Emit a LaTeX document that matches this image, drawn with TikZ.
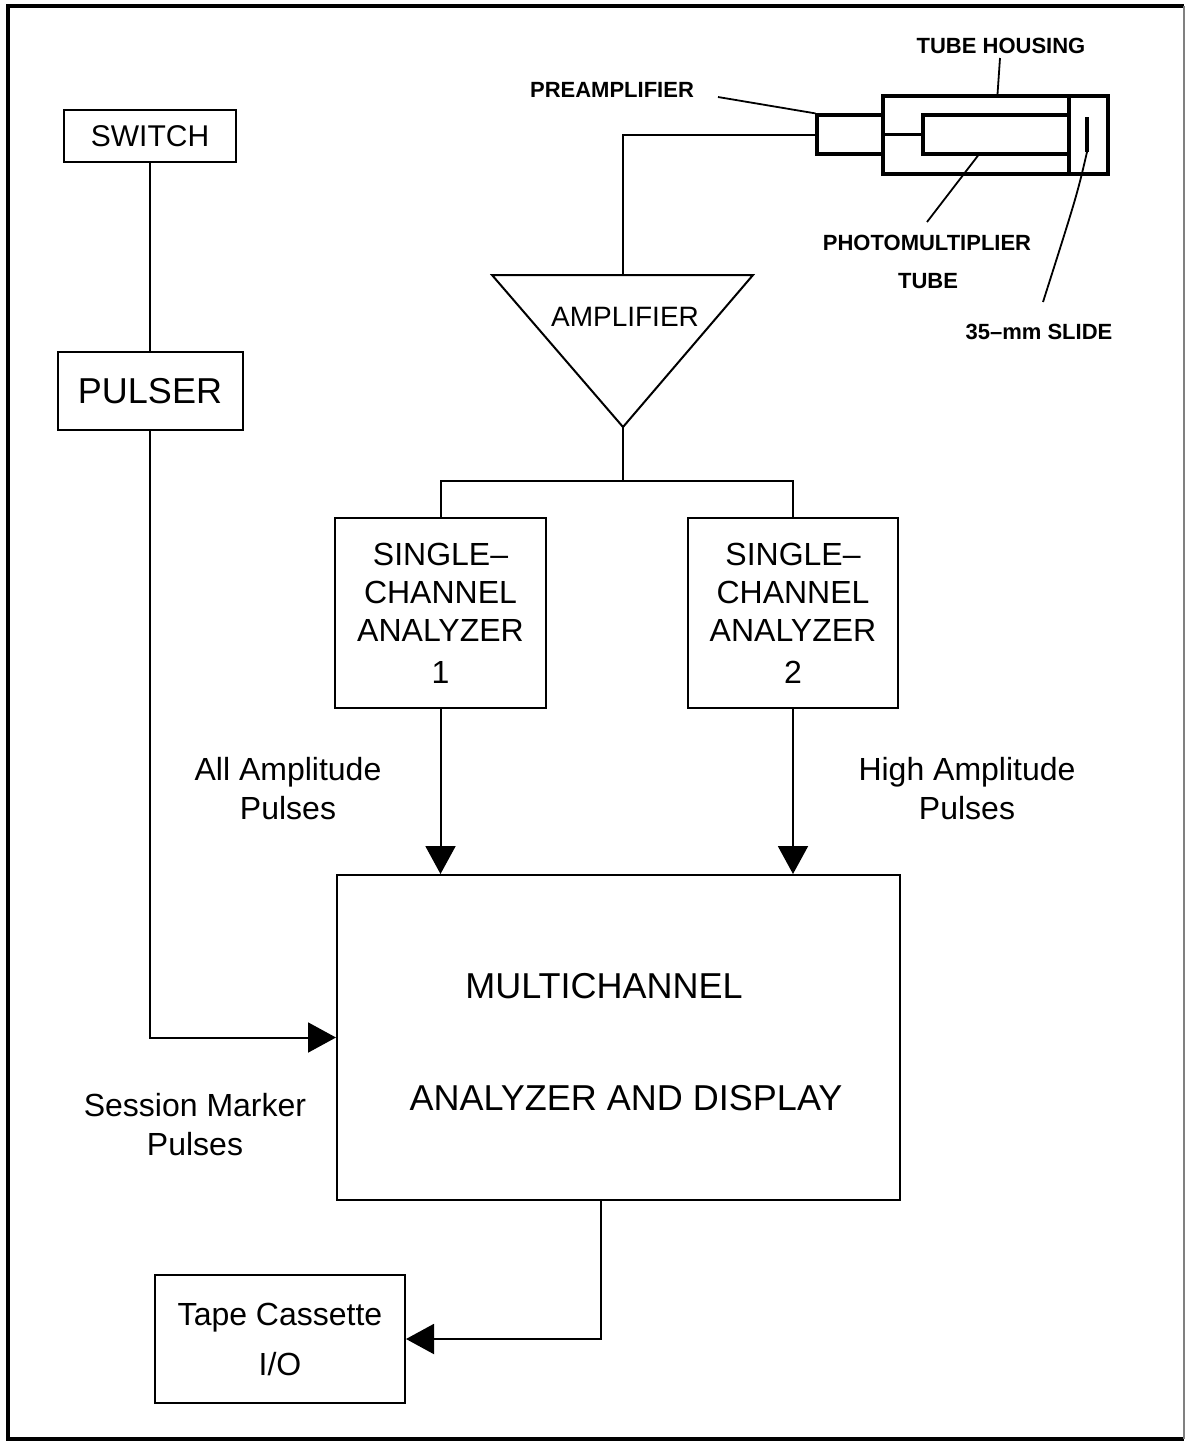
\documentclass[tikz,border=0pt]{standalone}
\usepackage{fontspec}
\setmainfont{Liberation Sans}
\usetikzlibrary{arrows.meta}
\tikzset{
  blok/.style={draw, line width=1pt, inner sep=0pt, align=center},
  wire/.style={line width=1pt},
  feed/.style={wire, -{Triangle[width=15pt,length=14pt]}},
  part/.style={draw, line width=1.6pt, inner sep=0pt},
  lead/.style={line width=0.9pt},
  tag/.style={font=\bfseries\fontsize{11}{13}\selectfont, inner sep=0pt},
  txt/.style={font=\fontsize{16}{19.5}\selectfont, align=center, inner sep=0pt}
}
\begin{document}
\begin{tikzpicture}[x=0.5pt, y=-0.5pt]
  \useasboundingbox (0,0) rectangle (1186,1441);
  \draw[line width=1.6pt] (1184,6) -| (8,1439) -- (1184,1439);
  \draw[gray, line width=0.6pt] (1184,6) -- (1184,1439);

  % detector head
  \node[part, minimum width=112.5pt, minimum height=39pt] (housing) at (995.5,135) {};
  \node[part, minimum width=33pt, minimum height=19.5pt] (pre) at (850,134.5) {};
  \node[part, minimum width=73pt, minimum height=19.5pt] (pmt) at (996,134.5) {};
  \draw[line width=1.6pt] (1069,96) -- (1069,174);
  \draw[line width=1.6pt] (pre.east) -- (pmt.west);
  \draw[line width=1.6pt] (1087,117) -- (1087,152) coordinate (slide);

  \node[tag] (lhousing) at (1001,46) {TUBE HOUSING};
  \node[tag] (lpre) at (612,90) {PREAMPLIFIER};
  \node[tag] (lpmt) at (927,243) {PHOTOMULTIPLIER};
  \node[tag] (lpmt2) at (928,281) {TUBE};
  \node[tag] (lslide) at (1039,332) {35--mm SLIDE};
  \draw[lead] (1000,58) -- ([xshift=1pt]housing.north);
  \draw[lead] (718,97) -- (pre.north west);
  \draw[lead] ([xshift=-9pt]pmt.south) -- (927,222);
  \draw[lead] (slide) .. controls (1077,195) .. (1043,302);

  % pulser chain
  \node[blok, minimum width=86pt, minimum height=26pt, font=\fontsize{15}{18}\selectfont] (switch) at (150,136) {SWITCH};
  \node[blok, minimum width=92.5pt, minimum height=39pt, font=\fontsize{18}{22}\selectfont] (pulser) at (150,391) {PULSER};
  \draw[wire] (switch) -- (pulser);

  % amplifier
  \coordinate (amptop) at (623,275);
  \coordinate (ampout) at (623,427);
  \draw[wire] (492,275) -- (753,275) -- (ampout) -- cycle;
  \node[font=\fontsize{14}{17}\selectfont] (amp) at (625,317) {AMPLIFIER};
  \draw[wire] (amptop) |- (pre.west);

  % analyzers
  \node[blok, minimum width=105.5pt, minimum height=95pt, font=\fontsize{16}{19}\selectfont] (sca1) at (440.5,613) {SINGLE--\\CHANNEL\\ANALYZER\\[2pt]1};
  \node[blok, minimum width=105pt, minimum height=95pt, font=\fontsize{16}{19}\selectfont] (sca2) at (793,613) {SINGLE--\\CHANNEL\\ANALYZER\\[2pt]2};
  \draw[wire] (ampout) -- ++(0,54) coordinate (split);
  \draw[wire] (sca1.north) |- (split) -| (sca2.north);

  \node[blok, minimum width=281.5pt, minimum height=162.5pt] (mca) at (618.5,1037.5) {};
  \node[font=\fontsize{18}{22}\selectfont] (mca1) at (604,986) {MULTICHANNEL};
  \node[font=\fontsize{18}{22}\selectfont] (mca2) at (626,1098) {ANALYZER AND DISPLAY};
  \draw[feed] (sca1.south) -- (sca1.south |- mca.north);
  \draw[feed] (sca2.south) -- (sca2.south |- mca.north);
  \draw[feed] (pulser.south) |- (mca.west);

  \node[blok, minimum width=125pt, minimum height=64pt, font=\fontsize{16}{25}\selectfont] (tape) at (280,1339) {Tape Cassette\\I/O};
  \draw[feed] ([xshift=-9pt]mca.south) |- (tape.east);

  \node[txt] (lall) at (288,789) {All Amplitude\\Pulses};
  \node[txt] (lhigh) at (967,789) {High Amplitude\\Pulses};
  \node[txt] (lsess) at (195,1125) {Session Marker\\Pulses};
\end{tikzpicture}
\end{document}
